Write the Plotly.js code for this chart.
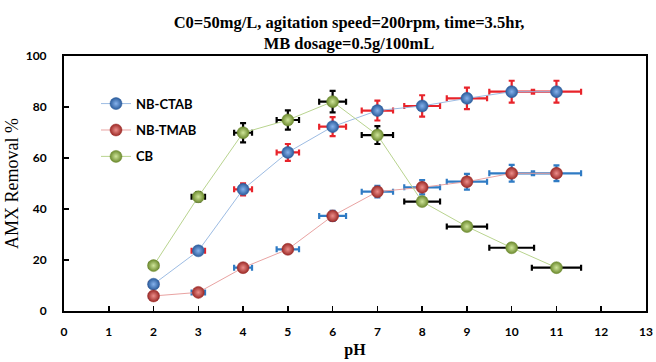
<!DOCTYPE html>
<html>
<head>
<meta charset="utf-8">
<script src="https://cdn.plot.ly/plotly-3.0.1.min.js"></script>
<style>
  html, body { margin: 0; padding: 0; background: #ffffff; }
  #chart { width: 656px; height: 362px; }
</style>
</head>
<body>
<div id="chart"></div>
<script>
// ---- data ----
const pH = [2, 3, 4, 5, 6, 7, 8, 9, 10, 11];
const pHError = [0.1, 0.15, 0.2, 0.25, 0.3, 0.35, 0.4, 0.45, 0.5, 0.55];

const nbCtab = [10.5, 23.6, 47.7, 62.2, 72.3, 78.6, 80.4, 83.4, 86.0, 86.0];
const nbCtabErr = [0.5, 1.5, 2.4, 3.3, 3.7, 3.9, 4.2, 4.2, 4.3, 4.3];

const nbTmab = [5.9, 7.3, 17.0, 24.2, 37.3, 46.8, 48.5, 50.7, 54.0, 54.0];
const nbTmabErr = [0.5, 1.0, 1.5, 1.5, 2.0, 2.3, 2.8, 3.1, 3.3, 3.1];

const cb = [17.8, 44.8, 69.9, 74.9, 82.1, 69.0, 42.9, 33.1, 24.8, 17.0];
const cbErr = [0.5, 1.8, 3.8, 3.8, 4.2, 3.5, 1.0, 1.0, 1.0, 1.0];

const seriesNames = ['NB-CTAB', 'NB-TMAB', 'CB'];
const xTicks = [0, 1, 2, 3, 4, 5, 6, 7, 8, 9, 10, 11, 12, 13];
const yTicks = [0, 20, 40, 60, 80, 100];

// ---- styles ----
const styles = [
  {line: '#9DBCE3', edge: '#2B5C9C', center: '#86B2EC', err: '#E8232A'},
  {line: '#E9A3A2', edge: '#9C2A27', center: '#EC8E8A', err: '#2F7BC4'},
  {line: '#B9D48F', edge: '#6C8A2E', center: '#CFE59A', err: '#000000'}
];
const ys = [nbCtab, nbTmab, cb];
const yErrs = [nbCtabErr, nbTmabErr, cbErr];

const traces = ys.map((y, i) => ({
  type: 'scatter',
  mode: 'lines+markers',
  name: seriesNames[i],
  legendgroup: 'g' + i,
  x: pH,
  y: y,
  line: {color: styles[i].line, width: 1},
  marker: {
    size: 12,
    color: styles[i].edge,
    gradient: {type: 'radial', color: styles[i].center},
    line: {color: styles[i].edge, width: 0.5}
  },
  error_y: {type: 'data', array: yErrs[i], visible: true, color: styles[i].err, thickness: 2.2, width: 3},
  error_x: {type: 'data', array: pHError, visible: true, color: styles[i].err, thickness: 2.2, width: 3}
}));

const layout = {
  width: 656,
  height: 362,
  margin: {l: 64, r: 10, t: 56, b: 51},
  paper_bgcolor: '#ffffff',
  plot_bgcolor: '#ffffff',
  showlegend: true,
  title: {
    text: '<b>C0=50mg/L, agitation speed=200rpm, time=3.5hr,<br>MB dosage=0.5g/100mL</b>',
    font: {family: 'Liberation Serif', size: 16.5, color: '#000000'},
    xref: 'container', x: 349 / 656, xanchor: 'center',
    yref: 'container', y: 1 - 28 / 362, yanchor: 'top'
  },
  legend: {
    x: (96 - 64) / 582, xanchor: 'left',
    y: 0.872, yanchor: 'top',
    bgcolor: 'rgba(255,255,255,0)',
    borderwidth: 0,
    traceorder: 'grouped',
    tracegroupgap: 6.5,
    font: {family: 'Lato', size: 13, color: '#000000', weight: 'bold'}
  },
  xaxis: {
    range: [0, 13],
    tickvals: xTicks,
    ticktext: xTicks.map(String),
    ticks: 'inside', ticklen: 5, tickwidth: 1.5, tickcolor: '#000000',
    showline: true, linecolor: '#000000', linewidth: 2, mirror: true,
    showgrid: false, zeroline: false,
    ticklabelstandoff: 9,
    tickfont: {family: 'Lato', size: 12, color: '#000000', weight: 'bold'},
    title: {text: '<b>pH</b>', font: {family: 'Liberation Serif', size: 16, color: '#000000'}, standoff: 5},
    automargin: false
  },
  yaxis: {
    range: [0, 100],
    tickvals: yTicks,
    ticktext: yTicks.map(String),
    ticks: 'inside', ticklen: 5, tickwidth: 1.5, tickcolor: '#000000',
    showline: true, linecolor: '#000000', linewidth: 2, mirror: true,
    showgrid: false, zeroline: false,
    ticklabelstandoff: 13,
    tickfont: {family: 'Lato', size: 12, color: '#000000', weight: 'bold'},
    title: {text: 'AMX Removal %', font: {family: 'Liberation Serif', size: 18, color: '#000000'}, standoff: 2},
    automargin: false
  }
};

Plotly.newPlot('chart', traces, layout, {displayModeBar: false, staticPlot: true});
</script>
</body>
</html>
